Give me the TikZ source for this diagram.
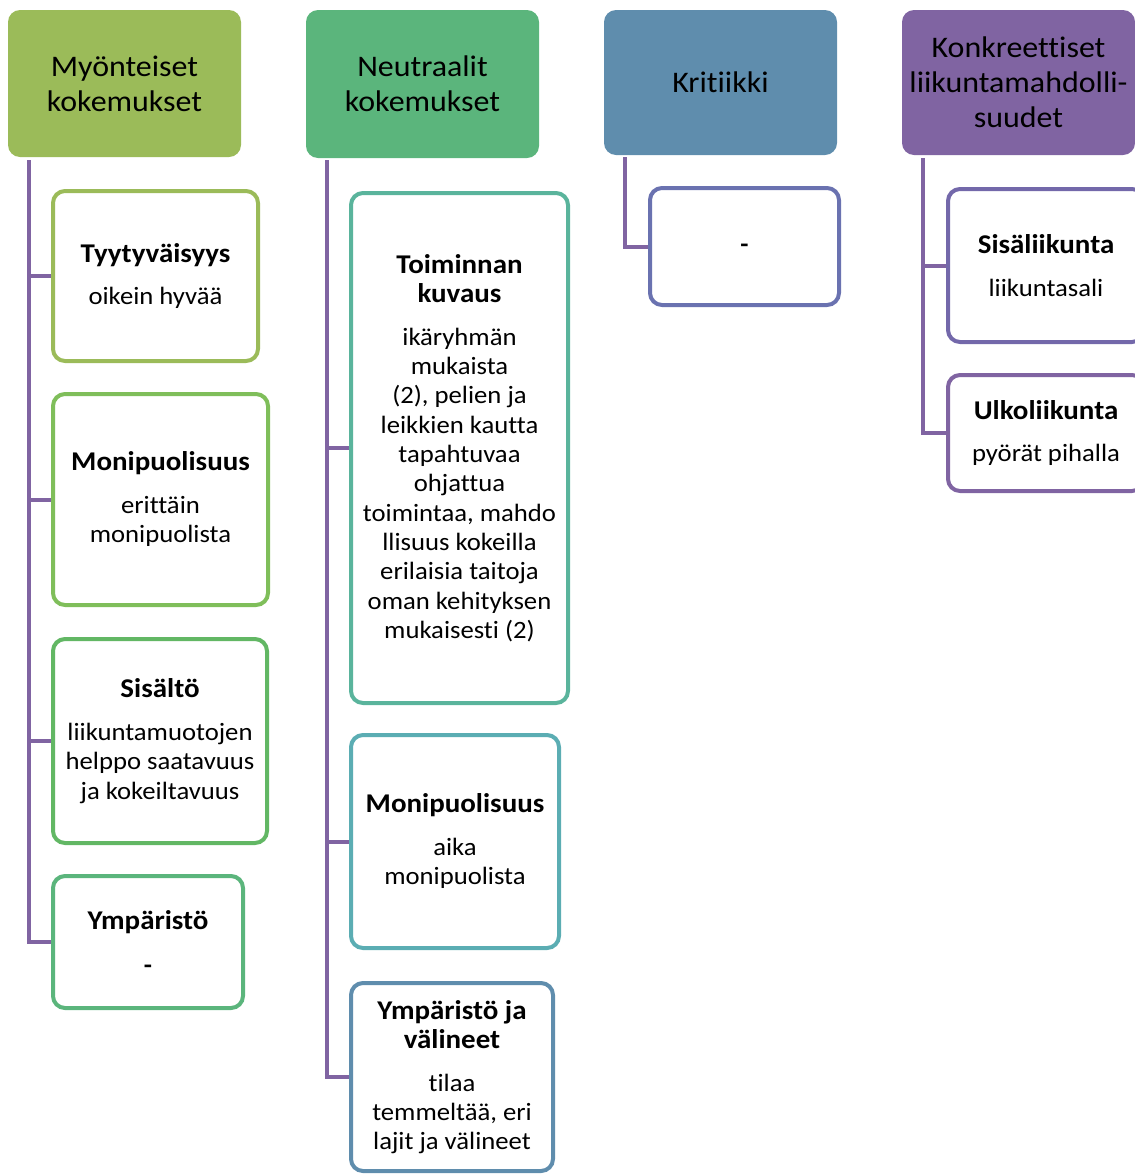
\documentclass[tikz,border=0pt]{standalone}
\usepackage{fontspec}
\setmainfont{Carlito}[FakeStretch=1.07,Ligatures=NoCommon]
\usepackage{tikz}
\usetikzlibrary{positioning,calc}
\definecolor{olivegreen}{HTML}{9BBB59}
\definecolor{leafgreen}{HTML}{7FBE5A}
\definecolor{grassgreen}{HTML}{62B764}
\definecolor{mintgreen}{HTML}{5BB57C}
\definecolor{seagreen}{HTML}{5AB49C}
\definecolor{tealblue}{HTML}{5BADB3}
\definecolor{steelblue}{HTML}{5F8DAD}
\definecolor{slateblue}{HTML}{6A72B0}
\definecolor{lavender}{HTML}{7368AA}
\definecolor{plum}{HTML}{8064A2}

\begin{document}
\begin{tikzpicture}[
  x=0.75pt,y=-0.75pt,
  font=\fontsize{18.7}{22}\selectfont,
  header/.style={rounded corners=9pt,align=center,inner sep=0pt,
    minimum width=174.75pt,
    font=\fontsize{22.4}{26.25}\selectfont},
  item/.style={draw,line width=3pt,rounded corners=9pt,fill=white,
    align=center,inner sep=0pt},
  link/.style={draw=plum,line width=3pt}
]
  \clip (0,0) rectangle (1135,1175);

  % header row
  \node[header,fill=olivegreen,minimum height=110.25pt] (pos) at (124.5,83.5)
    {Myönteiset\\kokemukset};
  \node[header,fill=mintgreen,minimum height=111pt] (neu) at (422.5,84)
    {Neutraalit\\kokemukset};
  \node[header,fill=steelblue,minimum height=108.75pt] (krit) at (720.5,82.5)
    {Kritiikki};
  \node[header,fill=plum,minimum height=108.75pt] (konk) at (1018.5,82.5)
    {Konkreettiset\\liikuntamahdolli-\\suudet};

  % column 1
  \node[item,draw=olivegreen,minimum width=153.75pt,minimum height=127.5pt] (tyyt) at (155.5,276)
    {\textbf{\fontsize{20.3}{24}\selectfont Tyytyväisyys}\\[10pt]oikein hyvää};
  \node[item,draw=leafgreen,minimum width=161.25pt,minimum height=158.25pt] (moni) at (160.5,499.5)
    {\textbf{\fontsize{20.3}{24}\selectfont Monipuolisuus}\\[10pt]erittäin\\monipuolista};
  \node[item,draw=grassgreen,minimum width=160.5pt,minimum height=153pt] (sisa) at (160,741)
    {\textbf{\fontsize{20.3}{24}\selectfont Sisältö}\\[10pt]liikuntamuotojen\\helppo saatavuus\\ja kokeiltavuus};
  \node[item,draw=mintgreen,minimum width=142.5pt,minimum height=99pt] (ymp) at (148,942)
    {\textbf{\fontsize{20.3}{24}\selectfont Ympäristö}\\[11pt]\textbf{-}};

  % column 2
  \node[item,draw=seagreen,minimum width=162.75pt,minimum height=382.5pt] (toim) at (459.5,448)
    {\textbf{\fontsize{20.3}{24}\selectfont Toiminnan}\\\textbf{\fontsize{20.3}{24}\selectfont kuvaus}\\[10pt]ikäryhmän\\mukaista\\(2), pelien ja\\leikkien kautta\\tapahtuvaa\\ohjattua\\toimintaa, mahdo\\llisuus kokeilla\\erilaisia taitoja\\oman kehityksen\\mukaisesti (2)};
  \node[item,draw=tealblue,minimum width=156pt,minimum height=159.75pt] (moni2) at (455,841.5)
    {\textbf{\fontsize{20.3}{24}\selectfont Monipuolisuus}\\[10pt]aika\\monipuolista};
  \node[item,draw=steelblue,minimum width=151.5pt,minimum height=141pt] (valin) at (452,1077)
    {\textbf{\fontsize{20.3}{24}\selectfont Ympäristö ja}\\\textbf{\fontsize{20.3}{24}\selectfont välineet}\\[10pt]tilaa\\temmeltää, eri\\lajit ja välineet};

  % column 3
  \node[item,draw=slateblue,minimum width=141.75pt,minimum height=87.75pt,
    text height=9pt,text depth=0pt] (viiva) at (744.5,246.5)
    {\textbf{-}};

  % column 4
  \node[item,draw=lavender,minimum width=147pt,minimum height=114.75pt] (sisl) at (1046,265.5)
    {\textbf{\fontsize{20.3}{24}\selectfont Sisäliikunta}\\[10pt]liikuntasali};
  \node[item,draw=plum,minimum width=147pt,minimum height=87pt] (ulko) at (1046,433)
    {\textbf{\fontsize{20.3}{24}\selectfont Ulkoliikunta}\\[10pt]pyörät pihalla};

  % connectors
  \draw[link] ($(pos.south west)+(21,3)$) |- (tyyt.west);
  \draw[link] ($(pos.south west)+(21,3)$) |- (moni.west);
  \draw[link] ($(pos.south west)+(21,3)$) |- (sisa.west);
  \draw[link] ($(pos.south west)+(21,3)$) |- (ymp.west);
  \draw[link] ($(neu.south west)+(21,2)$) |- (toim.west);
  \draw[link] ($(neu.south west)+(21,2)$) |- (moni2.west);
  \draw[link] ($(neu.south west)+(21,2)$) |- (valin.west);
  \draw[link] ($(krit.south west)+(21,2)$) |- (viiva.west);
  \draw[link] ($(konk.south west)+(21,3)$) |- (sisl.west);
  \draw[link] ($(konk.south west)+(21,3)$) |- (ulko.west);
\end{tikzpicture}
\end{document}
